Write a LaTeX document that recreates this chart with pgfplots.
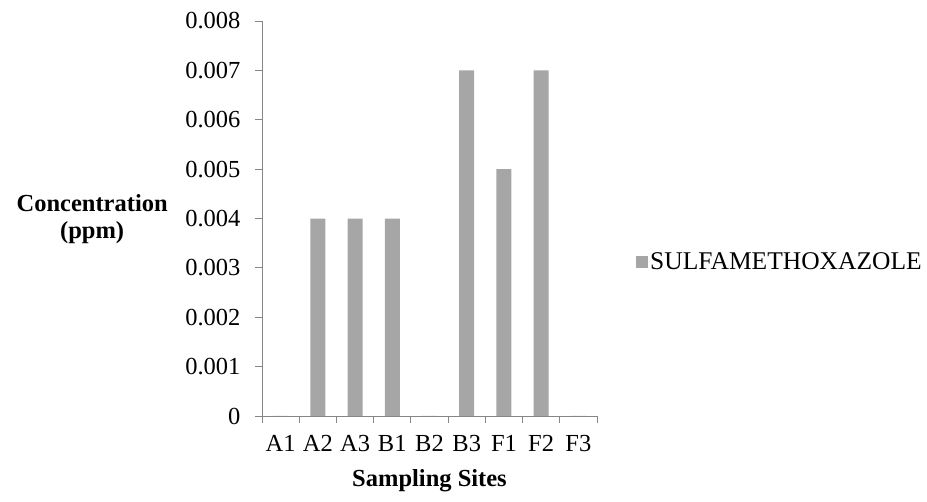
\documentclass[border=0pt]{standalone}
\usepackage{fontspec}
\setmainfont{Liberation Serif}
\usepackage{pgfplots}
\pgfplotsset{compat=1.18}
\definecolor{barc}{RGB}{166,166,166}
\definecolor{axc}{RGB}{134,134,134}
\newcommand{\fs}{\fontsize{24.5bp}{27bp}\selectfont}
\newcommand{\fl}{\fontsize{25.5bp}{28bp}\selectfont}
\begin{document}
\begin{tikzpicture}
\useasboundingbox (0,0) rectangle (927bp,502bp);
\begin{axis}[
  at={(262bp,86bp)}, anchor=south west,
  scale only axis, width=335bp, height=395bp,
  ybar, bar width=15bp,
  xmin=-0.5, xmax=8.5, ymin=0, ymax=0.008,
  axis lines=left, axis line style={-, draw=axc, line width=0.8bp},
  tick align=outside,
  major tick length=7bp, minor tick length=7bp,
  tick style={draw=axc, line width=0.8bp},
  xtick={0,1,2,3,4,5,6,7,8},
  xticklabels={A1,A2,A3,B1,B2,B3,F1,F2,F3},
  major x tick style={draw=none},
  minor xtick={-0.5,0.5,1.5,2.5,3.5,4.5,5.5,6.5,7.5,8.5},
  ytick={0,0.001,0.002,0.003,0.004,0.005,0.006,0.007,0.008},
  scaled y ticks=false,
  yticklabel style={/pgf/number format/.cd, fixed, precision=3, assume math mode=true, /tikz/.cd, xshift=-11bp},
  xticklabel style={yshift=-9bp},
  every tick label/.append style={font=\fs},
  xlabel={Sampling Sites},
  ylabel={Concentration\\(ppm)},
  every axis x label/.style={at={(axis description cs:0.5,-0.1797)}, anchor=base, font=\bfseries\fs},
  every axis y label/.style={at={(axis description cs:-0.507,0.499)}, anchor=center, align=center, font=\bfseries\fs},
  legend style={at={(axis description cs:1.1164,0.39)}, anchor=west, draw=none, fill=none, font=\fl, inner sep=0pt},
  legend image code/.code={\fill[barc] (0bp,-6bp) rectangle (12bp,6bp);},
]
\addplot[fill=barc, draw=none] coordinates {
  (0,0) (1,0.004) (2,0.004) (3,0.004) (4,0) (5,0.007) (6,0.005) (7,0.007) (8,0)
};
\addlegendentry{SULFAMETHOXAZOLE}
\end{axis}
\end{tikzpicture}
\end{document}
